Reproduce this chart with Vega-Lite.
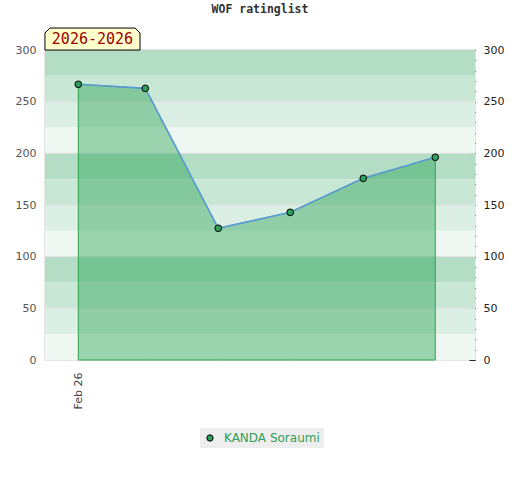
{
  "$schema": "https://vega.github.io/schema/vega-lite/v6.json",
  "autosize": {"type": "none"},
  "width": 430,
  "height": 310,
  "padding": {"left": 45, "top": 50, "right": 45, "bottom": 120},
  "background": "white",
  "title": {
    "text": "WOF ratinglist",
    "font": "DejaVu Sans Mono",
    "fontSize": 11.5,
    "fontWeight": "bold",
    "color": "#333333",
    "anchor": "middle",
    "frame": "group",
    "offset": 11
  },
  "config": {
    "view": {"stroke": "#dddddd", "strokeWidth": 1.5},
    "axis": {"labelFont": "DejaVu Sans", "labelFontSize": 11}
  },
  "layer": [
    {
      "data": {
        "values": [
          {"lo": 275, "hi": 300, "tone": "dark"},
          {"lo": 250, "hi": 275, "tone": "medium"},
          {"lo": 225, "hi": 250, "tone": "light"},
          {"lo": 200, "hi": 225, "tone": "pale"},
          {"lo": 175, "hi": 200, "tone": "dark"},
          {"lo": 150, "hi": 175, "tone": "medium"},
          {"lo": 125, "hi": 150, "tone": "light"},
          {"lo": 100, "hi": 125, "tone": "pale"},
          {"lo": 75, "hi": 100, "tone": "dark"},
          {"lo": 50, "hi": 75, "tone": "medium"},
          {"lo": 25, "hi": 50, "tone": "light"},
          {"lo": 0, "hi": 25, "tone": "pale"}
        ]
      },
      "mark": {"type": "rect"},
      "encoding": {
        "y": {"field": "lo", "type": "quantitative", "scale": {"domain": [0, 300], "nice": false, "zero": false}, "axis": null},
        "y2": {"field": "hi"},
        "fill": {
          "field": "tone",
          "type": "nominal",
          "scale": {"domain": ["dark", "medium", "light", "pale"], "range": ["#b3dec5", "#c8e7d5", "#dcefe4", "#eff7f2"]},
          "legend": null
        }
      }
    },
    {
      "data": {"values": [{"level": 50}, {"level": 100}, {"level": 150}, {"level": 200}, {"level": 250}]},
      "mark": {"type": "rule", "color": "#e0e0e0", "strokeWidth": 1},
      "encoding": {
        "y": {"field": "level", "type": "quantitative", "axis": null}
      }
    },
    {
      "data": {"name": "ratings"},
      "mark": {"type": "area", "color": "#1b9d48", "fillOpacity": 0.4, "stroke": "#2ea44f", "strokeWidth": 1, "strokeOpacity": 1},
      "encoding": {
        "x": {
          "field": "round",
          "type": "quantitative",
          "scale": {"domain": [-0.4625, 5.51], "nice": false, "zero": false},
          "axis": {
            "values": [0],
            "labelExpr": "'Feb 26'",
            "labelAngle": 270,
            "labelAlign": "right",
            "labelBaseline": "middle",
            "labelBound": false,
            "labelOverlap": false,
            "ticks": false,
            "domain": false,
            "grid": false,
            "title": null,
            "labelColor": "#444444",
            "labelPadding": 12
          }
        },
        "y": {
          "field": "rating",
          "type": "quantitative",
          "scale": {"domain": [0, 300], "nice": false},
          "axis": {
            "orient": "left",
            "values": [0, 50, 100, 150, 200, 250, 300],
            "ticks": false,
            "domain": false,
            "title": null,
            "labelColor": "#555555",
            "labelPadding": 9,
            "grid": false
          }
        }
      }
    },
    {
      "data": {"name": "ratings"},
      "mark": {"type": "line", "color": "#5b9bd5", "strokeWidth": 1.6},
      "encoding": {
        "x": {"field": "round", "type": "quantitative"},
        "y": {
          "field": "rating",
          "type": "quantitative",
          "axis": {
            "orient": "right",
            "offset": -3,
            "values": [0, 10, 20, 30, 40, 60, 70, 80, 90, 110, 120, 130, 140, 160, 170, 180, 190, 210, 220, 230, 240, 260, 270, 280, 290],
            "labels": false,
            "tickSize": 3,
            "tickColor": "#222222",
            "domain": false,
            "grid": false,
            "title": null
          }
        }
      }
    },
    {
      "data": {"name": "ratings"},
      "mark": {"type": "point", "filled": true, "shape": "circle", "size": 45, "stroke": "#000000", "strokeWidth": 1, "opacity": 1},
      "encoding": {
        "x": {"field": "round", "type": "quantitative"},
        "y": {
          "field": "rating",
          "type": "quantitative",
          "axis": {
            "orient": "right",
            "offset": -6,
            "values": [0, 50, 100, 150, 200, 250, 300],
            "tickSize": 6,
            "tickColor": "#222222",
            "domain": false,
            "grid": false,
            "title": null,
            "labelColor": "#222222",
            "labelPadding": 8
          }
        },
        "color": {
          "field": "player",
          "type": "nominal",
          "scale": {"range": ["#2e9e5a"]},
          "legend": {
            "orient": "none",
            "legendX": 155,
            "legendY": 378,
            "title": null,
            "fillColor": "#eeeeee",
            "padding": 4,
            "symbolType": "circle",
            "symbolSize": 40,
            "symbolStrokeColor": "#000000",
            "symbolStrokeWidth": 1,
            "labelColor": "#2e9e5a",
            "labelFont": "DejaVu Sans",
            "labelFontSize": 12,
            "labelOffset": 8
          }
        }
      }
    },
    {
      "data": {"values": [{"label": "2026-2026"}]},
      "mark": {
        "type": "point",
        "filled": true,
        "shape": "M -4.32 1 L -4.32 -0.55 L -3.87 -1 L 3.87 -1 L 4.32 -0.55 L 4.32 1 Z",
        "size": 484,
        "fill": "#ffffcc",
        "stroke": "#000000",
        "strokeWidth": 1,
        "opacity": 1
      },
      "encoding": {
        "x": {"datum": 0.197, "type": "quantitative"},
        "y": {"datum": 310.6, "type": "quantitative", "axis": null}
      }
    },
    {
      "data": {"values": [{"label": "2026-2026"}]},
      "mark": {"type": "text", "font": "DejaVu Sans Mono", "fontSize": 15, "color": "#990000", "align": "center", "baseline": "middle"},
      "encoding": {
        "x": {"datum": 0.197, "type": "quantitative"},
        "y": {"datum": 310.6, "type": "quantitative", "axis": null},
        "text": {"field": "label"}
      }
    }
  ],
  "datasets": {
    "ratings": [
      {"round": 0, "rating": 266.8, "player": "KANDA Soraumi"},
      {"round": 0.93, "rating": 262.9, "player": "KANDA Soraumi"},
      {"round": 1.944, "rating": 127.5, "player": "KANDA Soraumi"},
      {"round": 2.944, "rating": 142.9, "player": "KANDA Soraumi"},
      {"round": 3.958, "rating": 175.8, "player": "KANDA Soraumi"},
      {"round": 4.958, "rating": 196.2, "player": "KANDA Soraumi"}
    ]
  },
  "resolve": {"axis": {"y": "independent"}, "scale": {"color": "independent"}}
}
